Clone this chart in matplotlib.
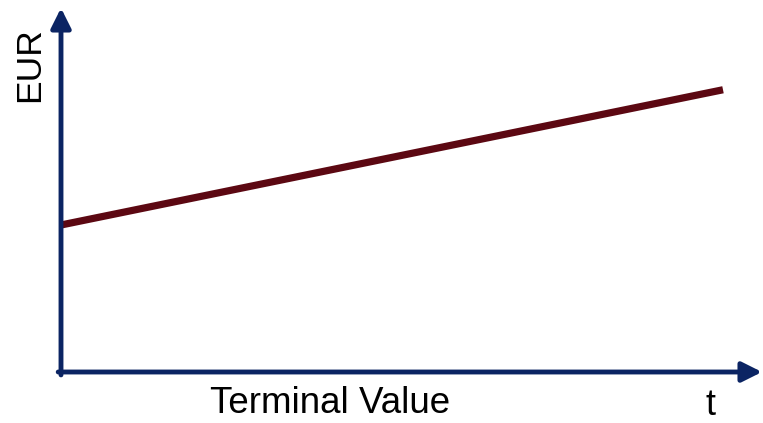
import matplotlib
matplotlib.use('Agg')
import matplotlib.pyplot as plt
from matplotlib.patches import FancyArrowPatch

# terminal value growing linearly over time
t = [0, 10]
eur = [100, 192]

navy = '#0b2463'
maroon = '#5c0812'

plt.rcParams['font.family'] = ['Liberation Sans', 'DejaVu Sans']

W, H = 763, 423
fig = plt.figure(figsize=(W / 100, H / 100), dpi=100)

# axes box in pixels: origin at (61, 372), arrows reach (762, 8)
x0, y0, x1, y1 = 61, 372, 762, 8
ax = fig.add_axes([x0 / W, (H - y0) / H, (x1 - x0) / W, (y0 - y1) / H])
ax.set_xlim(0, 10 * (x1 - x0) / (723 - x0))
ax.set_ylim(0, 100 * (y0 - y1) / (y0 - 225))
ax.axis('off')

ax.plot(t, eur, color=maroon, lw=5.2, solid_capstyle='butt', zorder=3)

# axis arrows
style = '-|>,head_length=12,head_width=6'
for start, end in [((0, -0.008), (0, 1)), ((-0.004, 0), (1, 0))]:
    arr = FancyArrowPatch(start, end, transform=ax.transAxes, arrowstyle=style,
                          mutation_scale=1, color=navy, lw=3.5,
                          shrinkA=0, shrinkB=0, clip_on=False, zorder=4)
    ax.add_patch(arr)

fig.text(330 / W, (H - 413) / H, 'Terminal Value', fontsize=26.5, ha='center', va='baseline')
fig.text(710 / W, (H - 415) / H, 't', fontsize=26, ha='center', va='baseline')
fig.text(39 / W, (H - 65) / H, 'EUR', fontsize=25.5, rotation=90, rotation_mode='anchor',
         ha='center', va='baseline')

fig.savefig('out.png', dpi=100)
